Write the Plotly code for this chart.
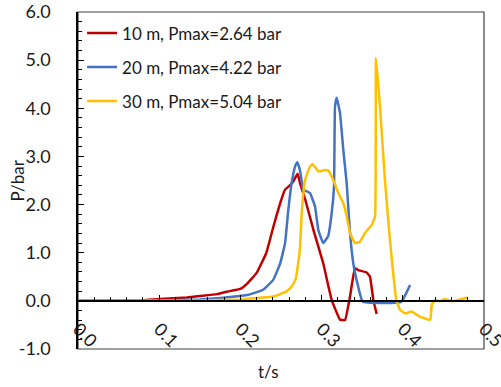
import plotly.graph_objects as go

# ---- data ----
t_10 = [0, 0.05, 0.08, 0.101, 0.134, 0.15, 0.171, 0.183, 0.2, 0.209, 0.22, 0.232, 0.2406, 0.249,
        0.255, 0.261, 0.265, 0.2705, 0.2735, 0.2796, 0.29, 0.302, 0.3124, 0.3227, 0.3288, 0.335,
        0.341, 0.345, 0.3555, 0.3596, 0.3637, 0.3678]
p_10 = [0, 0, 0.01, 0.04, 0.07, 0.1, 0.14, 0.19, 0.25, 0.37, 0.58, 1.0, 1.54, 2.03,
        2.31, 2.4, 2.48, 2.64, 2.44, 2.12, 1.47, 0.78, 0.02, -0.39, -0.40, 0.09,
        0.68, 0.64, 0.59, 0.5, 0.02, -0.27]

t_20 = [0, 0.1, 0.15, 0.175, 0.208, 0.228, 0.2406, 0.249, 0.255, 0.259, 0.263, 0.2675, 0.2701,
        0.2735, 0.2775, 0.2857, 0.2919, 0.296, 0.302, 0.308, 0.3124, 0.3153, 0.3165, 0.3186,
        0.3227, 0.3267, 0.3309, 0.335, 0.339, 0.345, 0.3506, 0.398, 0.4089]
p_20 = [0, 0.01, 0.03, 0.06, 0.12, 0.23, 0.44, 0.78, 1.2, 1.89, 2.44, 2.8, 2.88,
        2.7, 2.31, 2.24, 1.96, 1.47, 1.2, 1.34, 1.82, 2.37, 4.04, 4.22,
        3.9, 3.14, 2.44, 1.41, 0.78, 0.3, -0.02, -0.02, 0.33]

t_30 = [0, 0.1, 0.15, 0.2, 0.22, 0.2406, 0.249, 0.257, 0.263, 0.268, 0.2713, 0.2734, 0.2755,
        0.2796, 0.2857, 0.289, 0.296, 0.304, 0.308, 0.3144, 0.3206, 0.3267, 0.331, 0.335, 0.341,
        0.3473, 0.3534, 0.3617, 0.3658, 0.367, 0.3719, 0.378, 0.384, 0.388, 0.392, 0.3966,
        0.4027, 0.411, 0.421, 0.4315, 0.434, 0.4356, 0.4397, 0.4458, 0.452, 0.46, 0.4663,
        0.4725, 0.4795]
p_30 = [0, 0, 0.01, 0.03, 0.06, 0.09, 0.14, 0.2, 0.3, 0.45, 0.8, 1.1, 1.82,
        2.51, 2.79, 2.84, 2.69, 2.72, 2.71, 2.51, 2.24, 2.03, 1.75, 1.41, 1.2,
        1.23, 1.41, 1.58, 1.75, 5.04, 4.04, 2.51, 1.3, 0.6, 0.02, -0.19,
        -0.26, -0.22, -0.33, -0.39, -0.39, -0.08, 0.02, -0.01, 0.04, -0.01, 0.01,
        0.04, 0.07]

names = ["10 m, Pmax=2.64 bar", "20 m, Pmax=4.22 bar", "30 m, Pmax=5.04 bar"]
colors = ["#C00000", "#4472C4", "#FFC000"]

x_ticks = [0, 0.1, 0.2, 0.3, 0.4, 0.5]
x_labels = ["0.0", "0.1", "0.2", "0.3", "0.4", "0.5"]
y_ticks = [-1, 0, 1, 2, 3, 4, 5, 6]
y_labels = ["-1.0", "0.0", "1.0", "2.0", "3.0", "4.0", "5.0", "6.0"]

FONT = "Lato"
FS = 17
TXT = "#1a1a1a"

fig = go.Figure()
for t, p, n, c in zip([t_10, t_20, t_30], [p_10, p_20, p_30], names, colors):
    fig.add_trace(go.Scatter(x=t, y=p, mode="lines", name=n, legendgroup=n,
                             line=dict(color=c, width=2.5, shape="spline", smoothing=0.3)))

ymin, ymax = -1, 6
fig.update_layout(
    width=501, height=387,
    margin=dict(l=78, r=17, t=12, b=38),
    paper_bgcolor="white", plot_bgcolor="white",
    font=dict(family=FONT, size=FS, color=TXT),
    showlegend=True,
    legend=dict(x=0.01, y=0.99, xanchor="left", yanchor="top",
                bgcolor="rgba(0,0,0,0)", tracegroupgap=9,
                font=dict(family=FONT, size=FS, color=TXT),
                itemwidth=30),
    xaxis=dict(range=[0, 0.5], tickvals=x_ticks, ticktext=x_labels,
               anchor="free", position=(0 - ymin) / (ymax - ymin),
               showline=True, linecolor="black", linewidth=1.5,
               ticks="inside", ticklen=5, tickcolor="black", tickwidth=1,
               minor=dict(dtick=0.02, ticks="inside", ticklen=3, tickcolor="black", tickwidth=1),
               tickangle=45, ticklabelstandoff=10, tickfont=dict(size=18),
               ticklabeloverflow="allow", automargin=False,
               showgrid=False, zeroline=False),
    yaxis=dict(range=[ymin, ymax], tickvals=y_ticks, ticktext=y_labels,
               showline=True, linecolor="black", linewidth=1.5,
               ticks="inside", ticklen=6, tickcolor="black", tickwidth=1,
               minor=dict(dtick=0.2, ticks="inside", ticklen=4, tickcolor="black", tickwidth=1),
               ticklabelstandoff=22, tickfont=dict(size=18), automargin=False,
               showgrid=False, zeroline=False),
    shapes=[dict(type="rect", xref="paper", yref="paper", x0=0, x1=1, y0=0, y1=1,
                 line=dict(color="#404040", width=1.2), fillcolor="rgba(0,0,0,0)", layer="below")],
    annotations=[
        dict(text="t/s", xref="paper", yref="paper", x=0.47, y=-0.068,
             xanchor="center", yanchor="middle", showarrow=False,
             font=dict(family=FONT, size=FS, color=TXT)),
        dict(text="P/bar", xref="paper", yref="paper", x=-0.148, y=0.5, textangle=-90,
             xanchor="center", yanchor="middle", showarrow=False,
             font=dict(family=FONT, size=FS, color=TXT)),
    ],
)

fig.write_html("out.html")
